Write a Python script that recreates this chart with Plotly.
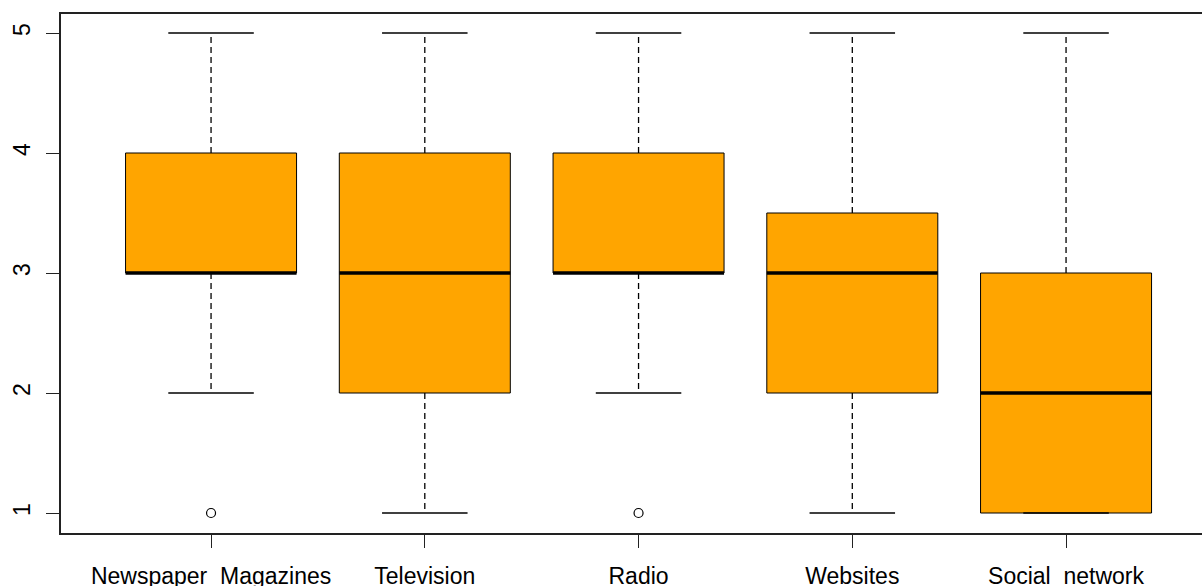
import plotly.graph_objects as go

categories = ["Newspaper\u00a0\u00a0Magazines", "Television", "Radio", "Websites", "Social\u00a0\u00a0network"]
positions = [1, 2, 3, 4, 5]
lower_whisker = [2, 1, 2, 1, 1]
q1 = [3, 2, 3, 2, 1]
median = [3, 3, 3, 3, 2]
q3 = [4, 4, 4, 3.5, 3]
upper_whisker = [5, 5, 5, 5, 5]
outlier_x = [1, 3]
outlier_y = [1, 1]
y_ticks = [1, 2, 3, 4, 5]

BOX_HALF = 0.4
CAP_HALF = 0.2
FONT = "Liberation Sans, Arial, sans-serif"

fig = go.Figure()

# boxes
fig.add_trace(go.Bar(
    x=positions, base=q1, y=[b - a for a, b in zip(q1, q3)], width=2 * BOX_HALF,
    marker=dict(color="#FFA500", line=dict(color="black", width=1)),
    showlegend=False, hoverinfo="skip"))

def segs(pairs):
    xs, ys = [], []
    for (x0, y0, x1, y1) in pairs:
        xs += [x0, x1, None]
        ys += [y0, y1, None]
    return xs, ys

# whiskers (dashed)
wx, wy = segs([(p, b, p, u) for p, b, u in zip(positions, q3, upper_whisker)] +
              [(p, a, p, l) for p, a, l in zip(positions, q1, lower_whisker)])
fig.add_trace(go.Scatter(x=wx, y=wy, mode="lines",
                         line=dict(color="black", width=1.3, dash="6px,4px"),
                         showlegend=False, hoverinfo="skip"))
# caps
cx, cy = segs([(p - CAP_HALF, u, p + CAP_HALF, u) for p, u in zip(positions, upper_whisker)] +
              [(p - CAP_HALF, l, p + CAP_HALF, l) for p, l in zip(positions, lower_whisker)])
fig.add_trace(go.Scatter(x=cx, y=cy, mode="lines", line=dict(color="black", width=1.3),
                         showlegend=False, hoverinfo="skip"))
# medians
mx, my = segs([(p - BOX_HALF, m, p + BOX_HALF, m) for p, m in zip(positions, median)])
fig.add_trace(go.Scatter(x=mx, y=my, mode="lines", line=dict(color="black", width=3.5),
                         showlegend=False, hoverinfo="skip"))
# outliers
fig.add_trace(go.Scatter(x=outlier_x, y=outlier_y, mode="markers",
                         marker=dict(symbol="circle-open", size=9, color="black", line=dict(width=1.2)),
                         showlegend=False, hoverinfo="skip"))

fig.update_layout(
    width=1202, height=586,
    margin=dict(l=61, r=0, t=14, b=53, autoexpand=False),
    paper_bgcolor="white", plot_bgcolor="white",
    font=dict(family=FONT, size=23, color="black"),
    barmode="overlay",
    xaxis=dict(range=[0.298, 5.636], tickvals=positions, ticktext=categories,
               automargin=False,
               showgrid=False, zeroline=False, showline=True, mirror=True,
               linecolor="#222", linewidth=1.5, ticks="outside", ticklen=13,
               tickwidth=1.3, tickcolor="#222", ticklabelstandoff=9,
               tickfont=dict(family=FONT, size=23, color="black")),
    yaxis=dict(range=[0.8333, 5.1583], tickvals=y_ticks, ticktext=[str(v) for v in y_ticks],
               automargin=False,
               showgrid=False, zeroline=False, showline=True, mirror=False,
               linecolor="#222", linewidth=1.5, ticks="outside", ticklen=13,
               tickwidth=1.3, tickcolor="#222", tickangle=-90, ticklabelstandoff=7,
               tickfont=dict(family=FONT, size=23, color="black")),
)

fig.write_html("out.html")
